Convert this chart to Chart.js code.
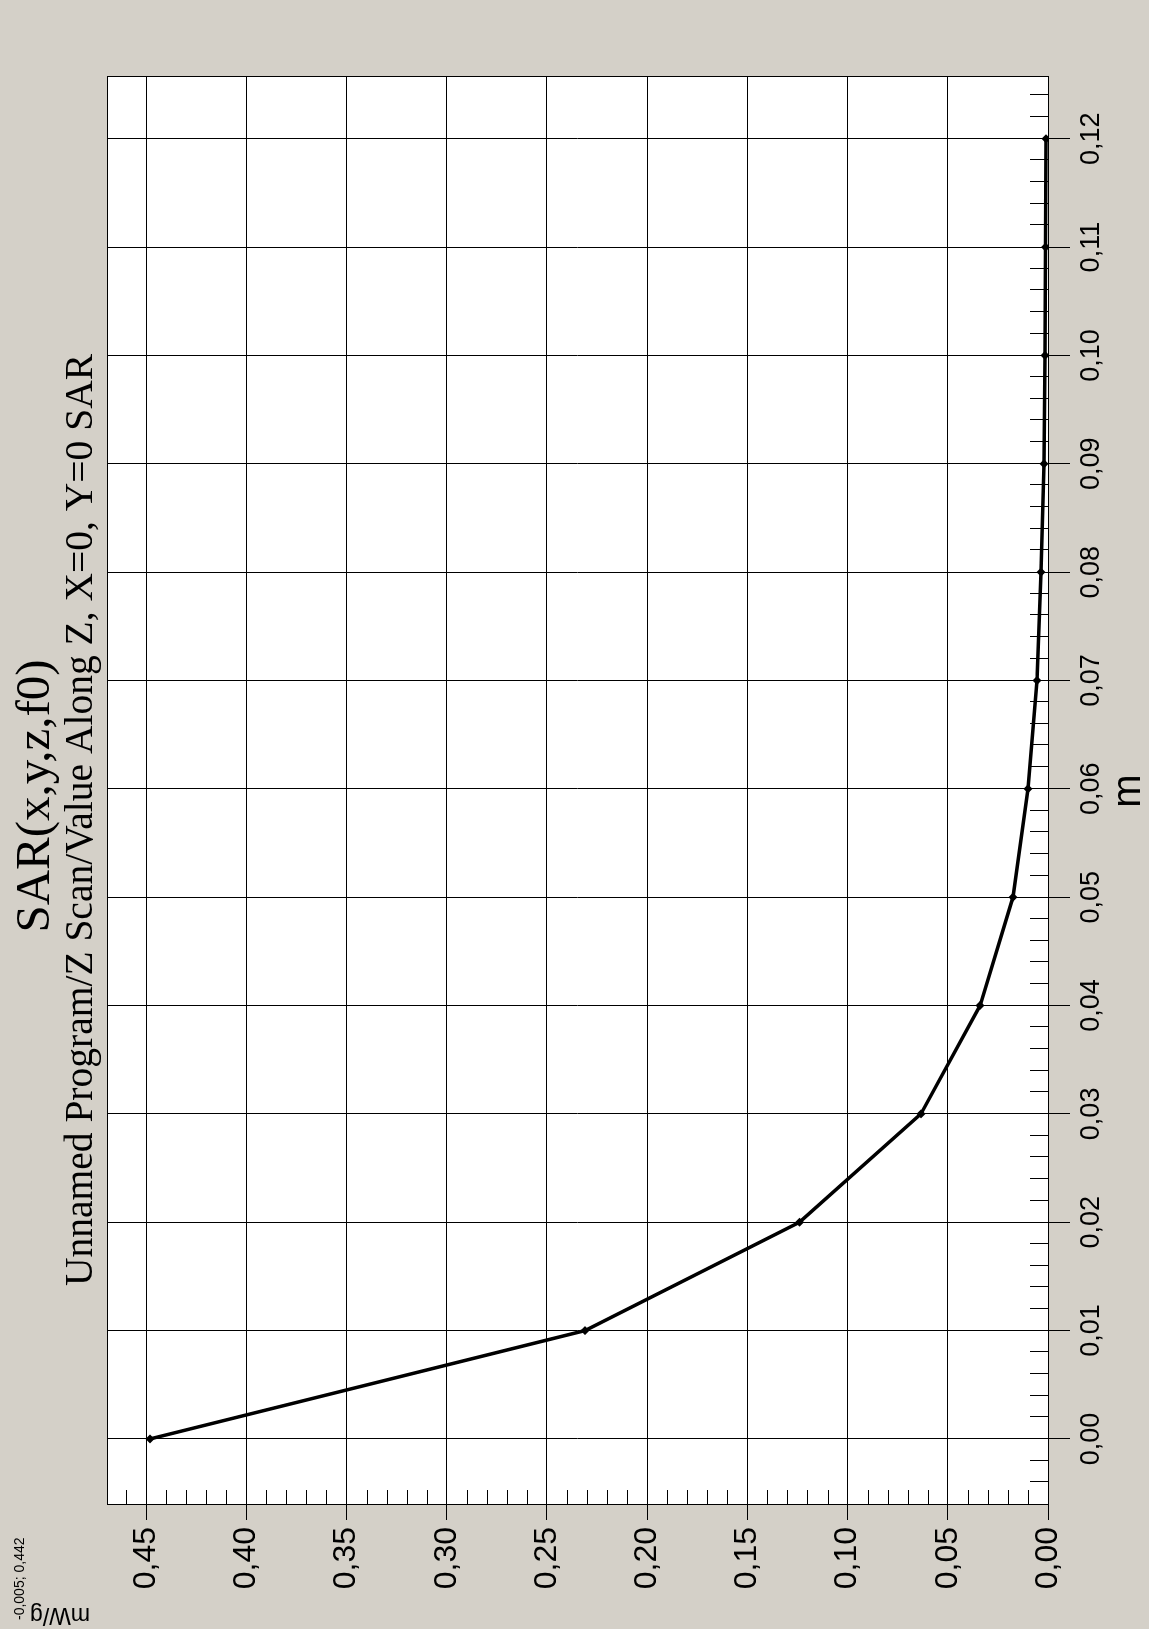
<!DOCTYPE html>
<html>
<head>
<meta charset="utf-8">
<script src="https://cdn.jsdelivr.net/npm/chart.js@4.4.1/dist/chart.umd.min.js"></script>
<style>
    html, body { margin: 0; padding: 0; background: #d4d0c8; overflow: hidden; }
    /* el grafico se dibuja acostado y se gira 90 grados a la izquierda */
    #contenedor {
        position: absolute; left: 0; top: 0;
        width: 1629px; height: 1149px;
        transform-origin: 0 0;
        transform: translate(0, 1629px) rotate(-90deg);
    }
</style>
</head>
<body>
<div id="contenedor"><canvas id="graficoSar" width="1629" height="1149"></canvas></div>
<script>
// Datos del barrido en Z (m) y SAR (mW/g)
const distancias = [0.00, 0.01, 0.02, 0.03, 0.04, 0.05, 0.06, 0.07, 0.08, 0.09, 0.10, 0.11, 0.12];
const valoresSar = [0.448, 0.231, 0.124, 0.0634, 0.0339, 0.0175, 0.0100, 0.0055, 0.0035, 0.0020, 0.0015, 0.0012, 0.0010];

// Marcas principales de los ejes
const ticksM = [0.00, 0.01, 0.02, 0.03, 0.04, 0.05, 0.06, 0.07, 0.08, 0.09, 0.10, 0.11, 0.12];
const ticksSar = [0.00, 0.05, 0.10, 0.15, 0.20, 0.25, 0.30, 0.35, 0.40, 0.45];

const titulo = 'SAR(x,y,z,f0)';
const subtitulo = 'Unnamed Program/Z Scan/Value Along Z, X=0, Y=0 SAR';
const tituloEjeY = 'mW/g';
const tituloEjeX = 'm';
const textoCursor = '-0,005; 0,442';

const SANS = '"Liberation Sans", Arial, sans-serif';
const SERIF = '"Liberation Serif", "Times New Roman", serif';

function formato(v) {
    return Number(v).toFixed(2).replace('.', ',');
}

function linea(ctx, x1, y1, x2, y2) {
    ctx.beginPath();
    ctx.moveTo(x1, y1);
    ctx.lineTo(x2, y2);
    ctx.stroke();
}

// Fondo gris, area blanca, marcas menores y textos
const decoracion = {
    id: 'decoracion',
    beforeDraw(chart) {
        const { ctx, chartArea: a } = chart;
        ctx.save();
        ctx.fillStyle = '#d4d0c8';
        ctx.fillRect(0, 0, chart.width, chart.height);
        ctx.fillStyle = '#ffffff';
        ctx.fillRect(a.left, a.top, a.right - a.left, a.bottom - a.top);
        ctx.restore();
    },
    beforeDatasetsDraw(chart) {
        const { ctx, chartArea: a, scales } = chart;
        ctx.save();
        ctx.strokeStyle = '#000';
        ctx.lineWidth = 1;

        // marcas menores del eje m (cada 0,002)
        for (let i = -2; i <= 62; i++) {
            if (i % 5 === 0) continue;
            const px = Math.round(scales.x.getPixelForValue(i * 0.002)) + 0.5;
            linea(ctx, px, a.bottom, px, a.bottom - 18);
        }
        // marcas menores del eje SAR (cada 0,01)
        for (let i = 1; i <= 46; i++) {
            if (i % 5 === 0) continue;
            const py = Math.round(scales.y.getPixelForValue(i * 0.01)) + 0.5;
            linea(ctx, a.left, py, a.left + 15, py);
        }

        ctx.strokeRect(Math.round(a.left) + 0.5, Math.round(a.top) + 0.5,
            Math.round(a.right - a.left), Math.round(a.bottom - a.top));
        ctx.restore();
    },
    afterDraw(chart) {
        const { ctx } = chart;
        ctx.save();
        ctx.fillStyle = '#000';
        ctx.textBaseline = 'alphabetic';

        ctx.textAlign = 'center';
        ctx.font = '49px ' + SERIF;
        ctx.fillText(titulo, 833, 49);
        ctx.font = '39.5px ' + SERIF;
        ctx.fillText(subtitulo, 809, 92);

        ctx.textAlign = 'left';
        ctx.font = '14px ' + SANS;
        ctx.fillText(textoCursor, 9, 24);

        // titulo del eje SAR, arriba a la izquierda
        ctx.translate(21, 60);
        ctx.rotate(-Math.PI / 2);
        ctx.textAlign = 'center';
        ctx.font = '23px ' + SANS;
        ctx.fillText(tituloEjeY, 0, 0);
        ctx.restore();
    }
};

const ctx = document.getElementById('graficoSar').getContext('2d');

new Chart(ctx, {
    type: 'scatter',
    data: {
        datasets: [{
            label: 'SAR',
            data: distancias.map((d, i) => ({ x: d, y: valoresSar[i] })),
            showLine: true,
            borderColor: '#000',
            backgroundColor: '#000',
            borderWidth: 3.5,
            pointStyle: 'rectRot',
            pointRadius: 4.5,
            pointBorderWidth: 0,
            tension: 0
        }]
    },
    options: {
        responsive: false,
        animation: false,
        devicePixelRatio: 1,
        layout: { padding: { top: 107, right: 77, left: 0, bottom: 0 } },
        plugins: {
            legend: { display: false },
            tooltip: { enabled: false }
        },
        scales: {
            x: {
                type: 'linear',
                position: 'bottom',
                min: -0.0061,
                max: 0.1257,
                afterBuildTicks: s => { s.ticks = ticksM.map(v => ({ value: v })); },
                afterFit: s => { s.height = 101; },
                ticks: {
                    callback: v => formato(v),
                    font: { family: SANS, size: 27 },
                    color: '#000',
                    padding: 5,
                    maxRotation: 0,
                    autoSkip: false
                },
                grid: { color: '#000', lineWidth: 1, tickLength: 22 },
                border: { display: false },
                title: {
                    display: true,
                    text: tituloEjeX,
                    color: '#000',
                    font: { family: SANS, size: 40, lineHeight: 1 },
                    padding: { top: 0, bottom: 0 }
                }
            },
            y: {
                type: 'linear',
                position: 'left',
                min: 0,
                max: 0.4695,
                afterBuildTicks: s => { s.ticks = ticksSar.map(v => ({ value: v })); },
                afterFit: s => { s.width = 124; },
                ticks: {
                    callback: v => formato(v),
                    font: { family: SANS, size: 32 },
                    color: '#000',
                    padding: 7,
                    autoSkip: false
                },
                grid: { color: '#000', lineWidth: 1, tickLength: 15 },
                border: { display: false }
            }
        }
    },
    plugins: [decoracion]
});
</script>
</body>
</html>
